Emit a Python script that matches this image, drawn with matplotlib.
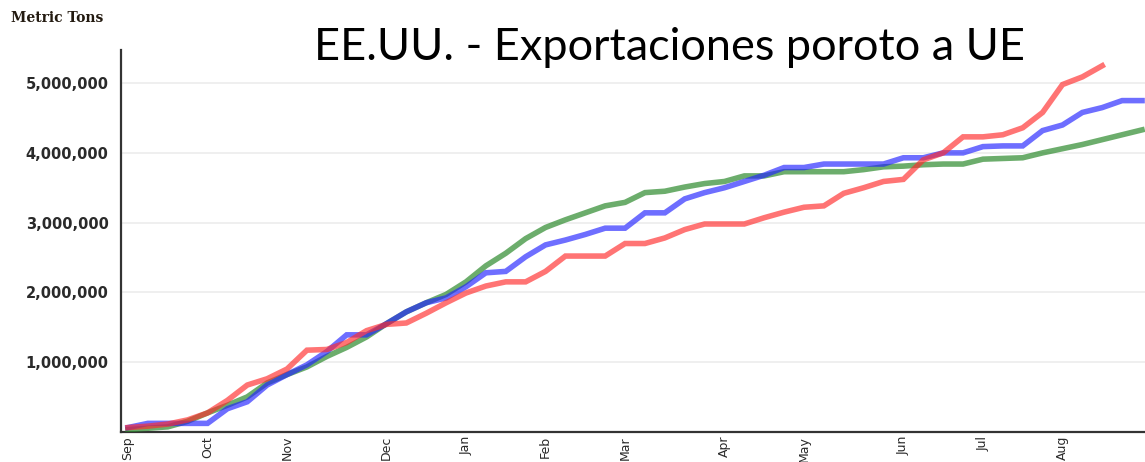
import numpy as np
import matplotlib
matplotlib.use("Agg")
import matplotlib.pyplot as plt
from matplotlib.ticker import FuncFormatter

# ================================================================
# data: weekly cumulative exports (million metric tons)
# ================================================================
weeks = np.arange(52)

red_series = [0.06, 0.08, 0.11, 0.17, 0.27, 0.45, 0.67, 0.76, 0.90, 1.17,
              1.18, 1.28, 1.45, 1.54, 1.56, 1.70, 1.85, 1.99, 2.09, 2.15,
              2.15, 2.30, 2.52, 2.52, 2.52, 2.70, 2.70, 2.78, 2.90, 2.98,
              2.98, 2.98, 3.07, 3.15, 3.22, 3.24, 3.42, 3.50, 3.59, 3.62,
              3.90, 4.00, 4.23, 4.23, 4.26, 4.36, 4.58, 4.98, 5.09, 5.25]

blue_series = [0.06, 0.12, 0.12, 0.12, 0.12, 0.33, 0.43, 0.67, 0.82, 0.96,
               1.15, 1.39, 1.39, 1.55, 1.72, 1.85, 1.92, 2.08, 2.28, 2.30,
               2.51, 2.68, 2.75, 2.83, 2.92, 2.92, 3.14, 3.14, 3.34, 3.43,
               3.50, 3.59, 3.68, 3.79, 3.79, 3.84, 3.84, 3.84, 3.84, 3.93,
               3.93, 4.00, 4.00, 4.09, 4.10, 4.10, 4.32, 4.40, 4.58, 4.65,
               4.75, 4.75]

green_series = [0.03, 0.05, 0.07, 0.15, 0.27, 0.38, 0.50, 0.70, 0.82, 0.93,
                1.08, 1.21, 1.36, 1.55, 1.72, 1.85, 1.97, 2.15, 2.38, 2.56,
                2.77, 2.93, 3.04, 3.14, 3.24, 3.29, 3.43, 3.45, 3.51, 3.56,
                3.59, 3.67, 3.67, 3.73, 3.73, 3.73, 3.73, 3.76, 3.80, 3.81,
                3.83, 3.84, 3.84, 3.91, 3.92, 3.93, 4.00, 4.06, 4.12, 4.19,
                4.26, 4.33]

month_labels = ['Sep', 'Oct', 'Nov', 'Dec', 'Jan', 'Feb', 'Mar', 'Apr',
                'May', 'Jun', 'Jul', 'Aug']
month_weeks = [0, 4, 8, 13, 17, 21, 25, 30, 34, 39, 43, 47]

y_ticks = [1e6, 2e6, 3e6, 4e6, 5e6]

# ================================================================
# figure
# ================================================================
fig = plt.figure(figsize=(11.45, 4.62), dpi=100)
ax = fig.add_axes([0.1057, 0.0655, 0.8943, 0.826])

lw = 4.0
ax.plot(weeks[:len(green_series)], np.array(green_series) * 1e6,
        color='#2e8b2e', alpha=0.7, lw=lw, solid_joinstyle='miter', zorder=3)
ax.plot(weeks[:len(blue_series)], np.array(blue_series) * 1e6,
        color='#2020ff', alpha=0.65, lw=lw, solid_joinstyle='miter', zorder=4)
ax.plot(weeks[:len(red_series)], np.array(red_series) * 1e6,
        color='#ff2a2a', alpha=0.65, lw=lw, solid_joinstyle='miter', zorder=5)

ax.set_xlim(-0.35, 51.15)
ax.set_ylim(0, 5.474e6)

ax.set_yticks(y_ticks)
ax.yaxis.set_major_formatter(FuncFormatter(lambda v, p: f"{int(v):,}"))
ax.set_xticks(month_weeks)
ax.set_xticklabels(month_labels, rotation=90, va='top', ha='center')

ax.tick_params(axis='both', length=0, colors='#2a2a2a')
ax.tick_params(axis='y', pad=9, labelsize=10.5)
ax.tick_params(axis='x', pad=3, labelsize=9)
for lbl in ax.get_yticklabels():
    lbl.set_fontweight('bold')

ax.grid(axis='y', color='#ececec', lw=1.2)
ax.set_axisbelow(True)

for side in ['top', 'right']:
    ax.spines[side].set_visible(False)
for side in ['left', 'bottom']:
    ax.spines[side].set_color('#333333')
    ax.spines[side].set_linewidth(1.6)

fig.text(0.010, 0.962, 'Metric Tons', family='DejaVu Serif',
         fontweight='bold', fontsize=10, color='#231a10', va='center')
fig.text(0.585, 0.898, 'EE.UU. - Exportaciones poroto a UE', family='Lato',
         fontsize=32.5, color='black', ha='center', va='center')

fig.savefig('out.png', dpi=100)
